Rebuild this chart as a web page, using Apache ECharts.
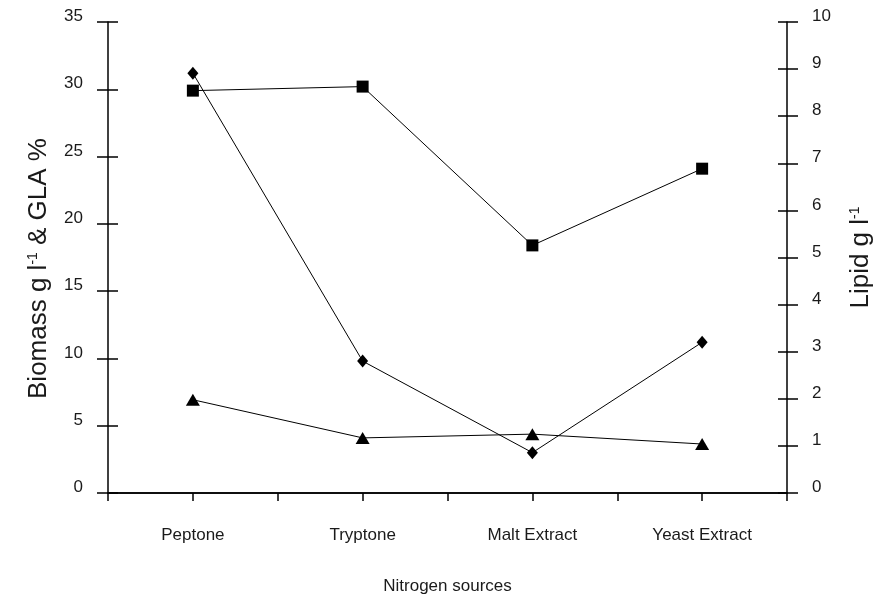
<!DOCTYPE html>
<html><head><meta charset="utf-8">
<script src="https://cdn.jsdelivr.net/npm/echarts@6/dist/echarts.min.js"></script>
<style>html,body{margin:0;padding:0;background:#fff}#c{width:883px;height:600px}</style>
</head><body><div id="c"></div>
<script>
const categories = ['Peptone', 'Tryptone', 'Malt Extract', 'Yeast Extract'];
const squareSeries = [29.9, 30.2, 18.4, 24.1];   // left axis
const diamondSeries = [31.2, 9.8, 3.0, 11.2];    // left axis
const lipidSeries = [1.98, 1.17, 1.25, 1.04];    // right axis (triangles)
const leftAxis = { min: 0, max: 35, interval: 5 };
const rightAxis = { min: 0, max: 10, interval: 1 };

const font = 'Liberation Sans, Arial, sans-serif';
const ink = '#1a1a1a';
const chart = echarts.init(document.getElementById('c'));
const lineStyle = { color: '#000', width: 1 };
const tickLabel = { color: ink, fontFamily: font, fontSize: 17, margin: 25, verticalAlign: 'bottom', lineHeight: 11 };
chart.setOption({
  animation: false,
  grid: { left: 108, right: 96, top: 22, bottom: 106 },
  xAxis: [
    { type: 'category', data: categories, position: 'bottom',
      axisLine: { lineStyle: { color: '#000', width: 1.5 } },
      axisTick: { show: true, length: 8, lineStyle: { color: '#000', width: 1.5 } },
      axisLabel: { color: ink, fontFamily: font, fontSize: 17, margin: 34 },
      name: 'Nitrogen sources', nameLocation: 'middle', nameGap: 85,
      nameTextStyle: { color: ink, fontFamily: font, fontSize: 17 } },
    { type: 'category', data: categories, position: 'bottom',
      axisLine: { show: false },
      axisTick: { show: true, alignWithLabel: true, length: 8, lineStyle: { color: '#000', width: 1.5 } },
      axisLabel: { show: false } },
    { type: 'category', data: categories, position: 'top',
      axisLine: { show: true, lineStyle: { color: '#000', width: 1.5 } },
      axisTick: { show: false }, axisLabel: { show: false } }
  ],
  yAxis: [
    { type: 'value', position: 'left', min: leftAxis.min, max: leftAxis.max, interval: leftAxis.interval,
      splitLine: { show: false },
      axisLine: { show: true, lineStyle: { color: '#000', width: 1.5 } },
      axisTick: { show: true, length: 11, lineStyle: { color: '#000', width: 1.5 } },
      axisLabel: tickLabel,
      name: '{a|Biomass g l}{s|-1}{a| & GLA %}', nameLocation: 'middle', nameGap: 56, nameRotate: 90,
      nameTextStyle: { padding: [0, 22, 0, 0],
        rich: { a: { fontFamily: font, fontSize: 26, color: ink }, s: { fontFamily: font, fontSize: 14, color: ink, verticalAlign: 'top', padding: [0,0,12,0] } } } },
    { type: 'value', position: 'right', min: rightAxis.min, max: rightAxis.max, interval: rightAxis.interval,
      splitLine: { show: false },
      axisLine: { show: true, lineStyle: { color: '#000', width: 1.5 } },
      axisTick: { show: true, length: 11, lineStyle: { color: '#000', width: 1.5 } },
      axisLabel: tickLabel,
      name: '{a|Lipid g l}{s|-1}', nameLocation: 'middle', nameGap: 61, nameRotate: 90,
      nameTextStyle: { rich: { a: { fontFamily: font, fontSize: 26, color: ink }, s: { fontFamily: font, fontSize: 14, color: ink, verticalAlign: 'top', padding: [0,0,12,0] } } } },
    { type: 'value', position: 'left', min: leftAxis.min, max: leftAxis.max, interval: leftAxis.interval,
      splitLine: { show: false }, axisLine: { show: false },
      axisTick: { show: true, inside: true, length: 10, lineStyle: { color: '#000', width: 1.5 } },
      axisLabel: { show: false } },
    { type: 'value', position: 'right', min: rightAxis.min, max: rightAxis.max, interval: rightAxis.interval,
      splitLine: { show: false }, axisLine: { show: false },
      axisTick: { show: true, inside: true, length: 9, lineStyle: { color: '#000', width: 1.5 } },
      axisLabel: { show: false } }
  ],
  series: [
    { type: 'line', data: squareSeries, xAxisIndex: 0, yAxisIndex: 0, symbol: 'rect', symbolSize: 12,
      itemStyle: { color: '#000' }, lineStyle: lineStyle },
    { type: 'line', data: diamondSeries, xAxisIndex: 0, yAxisIndex: 0, symbol: 'diamond', symbolSize: [11, 13],
      itemStyle: { color: '#000' }, lineStyle: lineStyle },
    { type: 'line', data: lipidSeries, xAxisIndex: 0, yAxisIndex: 1, symbol: 'triangle', symbolSize: [14, 12],
      itemStyle: { color: '#000' }, lineStyle: lineStyle }
  ]
});
</script></body></html>
